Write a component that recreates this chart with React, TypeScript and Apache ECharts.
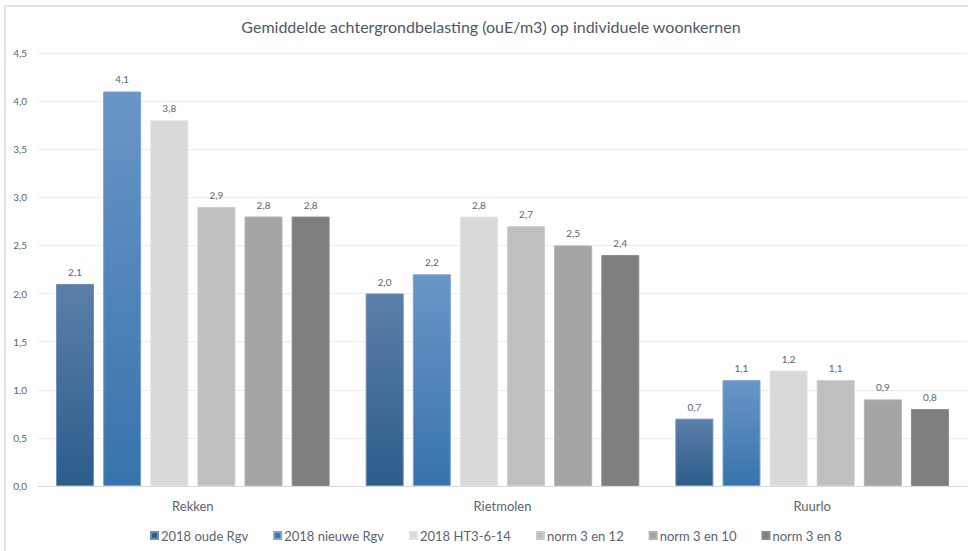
import React, { useEffect, useRef } from "react";
import * as echarts from "echarts";

const categories = ["Rekken", "Rietmolen", "Ruurlo"];
const seriesNames = [
  "2018 oude Rgv",
  "2018 nieuwe Rgv",
  "2018 HT3-6-14",
  "norm 3 en 12",
  "norm 3 en 10",
  "norm 3 en 8",
];
const oudeRgv = [2.1, 2.0, 0.7];
const nieuweRgv = [4.1, 2.2, 1.1];
const ht3614 = [3.8, 2.8, 1.2];
const norm312 = [2.9, 2.7, 1.1];
const norm310 = [2.8, 2.5, 0.9];
const norm38 = [2.8, 2.4, 0.8];
const seriesValues = [oudeRgv, nieuweRgv, ht3614, norm312, norm310, norm38];

const yMin = 0;
const yMax = 4.5;
const yInterval = 0.5;

const FONT = "Lato, 'Open Sans', sans-serif";
const TEXT = "#5b6470";

const grad = (top: string, bottom: string) =>
  new echarts.graphic.LinearGradient(0, 0, 0, 1, [
    { offset: 0, color: top },
    { offset: 1, color: bottom },
  ]);

const fills: any[] = [
  grad("#5b7fa9", "#2d5c8b"),
  grad("#6996c6", "#3773ac"),
  "#d9d9d9",
  "#bfbfbf",
  "#a5a5a5",
  "#7f7f7f",
];
const borders = ["#6d8fb7", "#7ba3cf", "#e3e3e3", "#cccccc", "#b3b3b3", "#8c8c8c"];
const legendColors = ["#2f5d8c", "#3b76ae", "#d9d9d9", "#bfbfbf", "#a5a5a5", "#7f7f7f"];

const fmt = (v: number) => v.toFixed(1).replace(".", ",");

export default function App() {
  const ref = useRef<HTMLDivElement>(null);
  useEffect(() => {
    if (!ref.current) return;
    const chart = echarts.init(ref.current, undefined, { renderer: "svg" });
    chart.setOption({
      animation: false,
      backgroundColor: "#ffffff",
      title: {
        text: "Gemiddelde achtergrondbelasting (ouE/m3) op individuele woonkernen",
        left: 486,
        textAlign: "center",
        top: 13,
        textStyle: { fontFamily: FONT, fontSize: 16, fontWeight: "normal", color: "#4f5866" },
      },
      graphic: [
        {
          type: "rect",
          shape: { x: 5, y: 6, width: 980, height: 600 },
          style: { fill: "none", stroke: "#d6dde6", lineWidth: 1.5 },
          silent: true,
          z: 100,
        },
      ],
      legend: {
        data: seriesNames.map((n, i) => ({ name: n, itemStyle: { color: legendColors[i] } })),
        bottom: 4,
        left: 145,
        icon: "rect",
        itemWidth: 7,
        itemHeight: 7,
        itemGap: 25,
        textStyle: { fontFamily: FONT, fontSize: 13, color: TEXT, padding: [0, 0, 0, -2] },
      },
      grid: { left: 38, right: 1, top: 53, bottom: 65, containLabel: false },
      xAxis: {
        type: "category",
        data: categories,
        axisLine: { lineStyle: { color: "#d9d9d9" } },
        axisTick: { show: false },
        axisLabel: { fontFamily: FONT, fontSize: 13, color: TEXT, margin: 13 },
      },
      yAxis: {
        type: "value",
        min: yMin,
        max: yMax,
        interval: yInterval,
        axisLine: { show: false },
        axisTick: { show: false },
        splitLine: { lineStyle: { color: "#ececec" } },
        axisLabel: {
          fontFamily: FONT,
          fontSize: 10,
          color: TEXT,
          margin: 11,
          formatter: (v: number) => fmt(v),
        },
      },
      series: seriesValues.map((vals, i) => ({
        name: seriesNames[i],
        type: "bar",
        data: vals,
        barWidth: 38,
        barGap: "24%",
        itemStyle: { color: fills[i], borderColor: borders[i], borderWidth: 1 },
        label: {
          show: true,
          position: "top",
          distance: 7,
          fontFamily: FONT,
          fontSize: 10,
          color: TEXT,
          formatter: (p: any) => fmt(p.value),
        },
      })),
    });
    return () => chart.dispose();
  }, []);
  return (
    <div
      ref={ref}
      style={{ position: "absolute", left: 0, top: 0, width: 968, height: 551 }}
    />
  );
}
